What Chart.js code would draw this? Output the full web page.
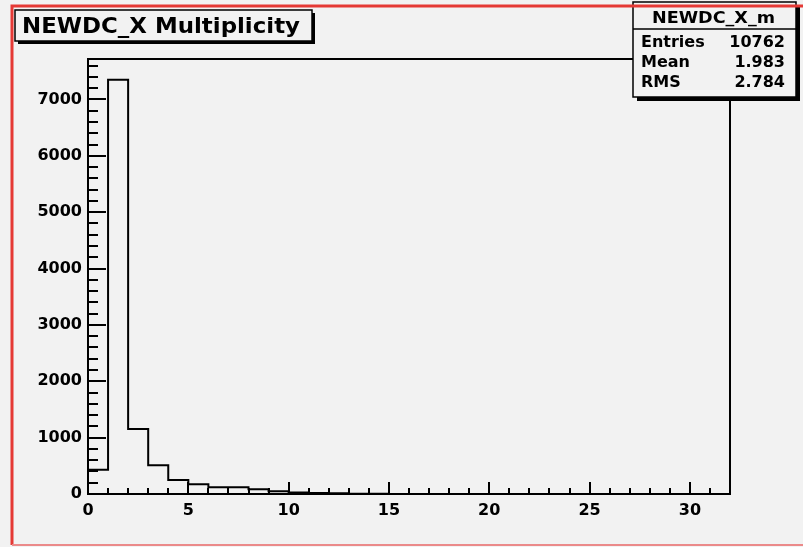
<!DOCTYPE html>
<html>
<head>
<meta charset="utf-8">
<script src="https://cdn.jsdelivr.net/npm/chart.js@4.4.1/dist/chart.umd.min.js"></script>
<style>
  html, body { margin: 0; padding: 0; background: #f2f2f2; }
  canvas { display: block; }
</style>
</head>
<body>
<canvas id="hist" width="803" height="547"></canvas>
<script>
const histTitle = 'NEWDC_X Multiplicity';
const statsName = 'NEWDC_X_m';
const statsLabels = ['Entries', 'Mean', 'RMS'];
const statsValues = ['10762', '1.983', '2.784'];

// one bin per unit, 0..32
const binCounts = [430, 7350, 1155, 510, 250, 172, 120, 118, 85, 48, 26, 18, 12, 4, 3, 2,
                   1, 1, 0, 1, 0, 0, 0, 0, 0, 0, 0, 0, 0, 0, 0, 0];
const xMin = 0, xMax = 32;
const yMin = 0, yMax = 7718;
const xTickLabels = [0, 5, 10, 15, 20, 25, 30];
const yTickLabels = [0, 1000, 2000, 3000, 4000, 5000, 6000, 7000];
const xMajor = 5, xMinor = 1;
const yMajor = 1000, yMinor = 200;

const BG = '#f2f2f2';
const FONT = '"DejaVu Sans", sans-serif';

// outline points for the step line
const steps = [{x: xMin, y: 0}]
  .concat(binCounts.map((c, i) => ({x: xMin + i, y: c})))
  .concat([{x: xMax, y: 0}]);

function fitText(ctx, text, x, y, w) {
  const m = ctx.measureText(text).width;
  ctx.save();
  ctx.translate(x, y);
  ctx.scale(w / m, 1);
  ctx.fillText(text, 0, 0);
  ctx.restore();
}

function shadowBox(ctx, x, y, w, h, off) {
  ctx.fillStyle = '#000';
  ctx.fillRect(x + off, y + off, w, h);
  ctx.fillStyle = BG;
  ctx.fillRect(x, y, w, h);
  ctx.strokeStyle = '#000';
  ctx.lineWidth = 1.5;
  ctx.strokeRect(x, y, w, h);
}

const rootPad = {
  id: 'rootPad',
  beforeDraw(chart) {
    const ctx = chart.ctx;
    ctx.save();
    ctx.fillStyle = BG;
    ctx.fillRect(0, 0, chart.width, chart.height);
    ctx.restore();
  },
  afterDraw(chart) {
    const ctx = chart.ctx;
    const a = chart.chartArea;
    const xs = chart.scales.x, ys = chart.scales.y;
    ctx.save();

    // frame
    ctx.strokeStyle = '#000';
    ctx.lineWidth = 2;
    ctx.strokeRect(a.left, a.top, a.right - a.left, a.bottom - a.top);

    // inward ticks
    ctx.beginPath();
    for (let v = xMin; v < xMax; v += xMinor) {
      const px = Math.round(xs.getPixelForValue(v));
      const len = v % xMajor === 0 ? 12 : 6;
      ctx.moveTo(px, a.bottom);
      ctx.lineTo(px, a.bottom - len);
    }
    for (let v = yMin; v <= yMax; v += yMinor) {
      const py = Math.round(ys.getPixelForValue(v));
      const len = v % yMajor === 0 ? 18 : 10;
      ctx.moveTo(a.left, py);
      ctx.lineTo(a.left + len, py);
    }
    ctx.stroke();

    // title box
    shadowBox(ctx, 15, 10, 297, 31, 3);
    ctx.fillStyle = '#000';
    ctx.font = 'bold 21px ' + FONT;
    ctx.textBaseline = 'alphabetic';
    ctx.textAlign = 'left';
    fitText(ctx, histTitle, 22, 33, 278);

    // stats box
    shadowBox(ctx, 633, 2, 163, 95, 4);
    ctx.beginPath();
    ctx.moveTo(633, 29);
    ctx.lineTo(796, 29);
    ctx.stroke();
    ctx.fillStyle = '#000';
    ctx.font = 'bold 16px ' + FONT;
    fitText(ctx, statsName, 652, 23, 123);
    const rowY = [47, 67, 87];
    statsLabels.forEach((l, i) => {
      ctx.textAlign = 'left';
      ctx.fillText(l, 641, rowY[i]);
      ctx.textAlign = 'right';
      ctx.fillText(statsValues[i], 785, rowY[i]);
    });

    // selected pad border
    ctx.strokeStyle = '#e53935';
    ctx.lineWidth = 3;
    ctx.beginPath();
    ctx.moveTo(803, 6);
    ctx.lineTo(12, 6);
    ctx.lineTo(12, 545);
    ctx.stroke();
    ctx.strokeStyle = '#eb8a8a';
    ctx.lineWidth = 2;
    ctx.beginPath();
    ctx.moveTo(12, 545);
    ctx.lineTo(803, 545);
    ctx.stroke();
    ctx.restore();
  }
};

const tickFont = { family: FONT, weight: 'bold', size: 16 };

new Chart(document.getElementById('hist'), {
  type: 'line',
  data: {
    datasets: [{
      data: steps,
      stepped: 'before',
      borderColor: '#000',
      borderWidth: 2,
      pointRadius: 0,
      fill: false
    }]
  },
  options: {
    responsive: false,
    animation: false,
    devicePixelRatio: 1,
    layout: { padding: { left: 0, top: 59, right: 73, bottom: 0 } },
    plugins: { legend: { display: false }, tooltip: { enabled: false } },
    scales: {
      x: {
        type: 'linear', min: xMin, max: xMax,
        grid: { display: false, drawTicks: false },
        border: { display: false },
        afterBuildTicks(s) { s.ticks = xTickLabels.map(v => ({value: v})); },
        ticks: {
          maxRotation: 0, autoSkip: false, color: '#000', padding: 7, font: tickFont,
          callback: v => String(v)
        },
        afterFit(s) { s.height = 53; }
      },
      y: {
        min: yMin, max: yMax,
        grid: { display: false, drawTicks: false },
        border: { display: false },
        afterBuildTicks(s) { s.ticks = yTickLabels.map(v => ({value: v})); },
        ticks: {
          autoSkip: false, color: '#000', padding: 6, font: tickFont,
          callback: v => String(v)
        },
        afterFit(s) { s.width = 88; }
      }
    }
  },
  plugins: [rootPad]
});
</script>
</body>
</html>
